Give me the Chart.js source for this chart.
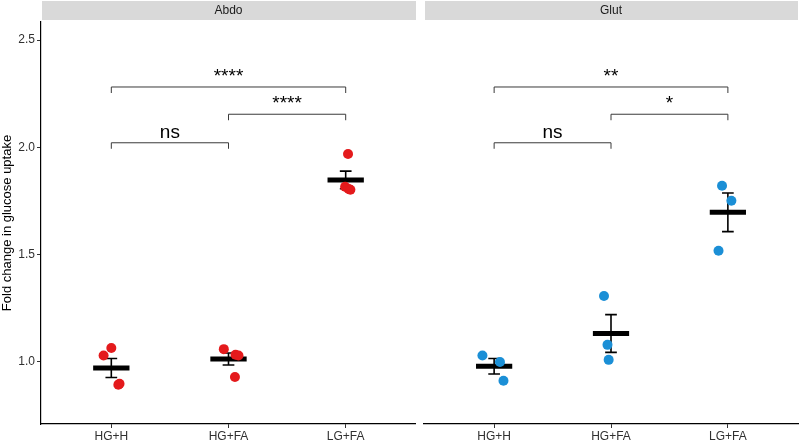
<!DOCTYPE html>
<html>
<head>
<meta charset="utf-8">
<script src="https://cdn.jsdelivr.net/npm/chart.js@4"></script>
<style>
  html, body { margin: 0; padding: 0; background: #fff; }
  #wrap { position: relative; width: 800px; height: 441px; }
  #c1 { position: absolute; left: 0; top: 0; }
  #c2 { position: absolute; left: 416px; top: 0; }
</style>
</head>
<body>
<div id="wrap">
  <canvas id="c1" width="416" height="441"></canvas>
  <canvas id="c2" width="384" height="441"></canvas>
</div>
<script>
// Groups and y ticks
const groups = ['HG+H', 'HG+FA', 'LG+FA'];
const yTicks = [1.0, 1.5, 2.0, 2.5];

// Abdo replicates (fold change) and horizontal jitter (category units)
const abdoHGH = [1.064, 1.029, 0.898, 0.893];
const abdoHGFA = [1.059, 1.033, 1.029, 0.929];
const abdoLGFA = [1.969, 1.816, 1.806, 1.802];
const abdoJitter = [[0.0, -0.066, 0.07, 0.06], [-0.04, 0.06, 0.085, 0.055], [0.02, -0.005, 0.025, 0.04]];
const abdoMean = [0.971, 1.013, 1.848];
const abdoSem = [0.044, 0.028, 0.041];

// Glut replicates
const glutHGH = [1.029, 0.999, 0.912];
const glutHGFA = [1.307, 1.079, 1.009];
const glutLGFA = [1.821, 1.751, 1.518];
const glutJitter = [[-0.1, 0.05, 0.08], [-0.06, -0.03, -0.02], [-0.05, 0.03, -0.08]];
const glutMean = [0.979, 1.132, 1.697];
const glutSem = [0.036, 0.088, 0.090];

// significance brackets
const bracketPairs = [[1, 3], [2, 3], [1, 2]];
const bracketY = [2.281, 2.154, 2.021];
const abdoSig = ['****', '****', 'ns'];
const glutSig = ['**', '*', 'ns'];

const FONT = "'Liberation Sans', Arial, sans-serif";

function toPoints(groupsVals, jitter) {
  const pts = [];
  groupsVals.forEach((vals, g) => {
    vals.forEach((v, i) => pts.push({ x: g + 1 + jitter[g][i], y: v }));
  });
  return pts;
}

// mean crossbar + SEM error bars, drawn under the points
const summaryPlugin = {
  id: 'summary',
  beforeDatasetsDraw(chart) {
    const o = chart.options.plugins.summary;
    const xs = chart.scales.x, ys = chart.scales.y;
    const ctx = chart.ctx;
    ctx.save();
    ctx.strokeStyle = '#000';
    o.means.forEach((m, i) => {
      const cx = i + 1;
      const top = ys.getPixelForValue(m + o.sems[i]);
      const bot = ys.getPixelForValue(m - o.sems[i]);
      ctx.lineWidth = 1.6;
      ctx.beginPath();
      ctx.moveTo(xs.getPixelForValue(cx), top);
      ctx.lineTo(xs.getPixelForValue(cx), bot);
      ctx.moveTo(xs.getPixelForValue(cx - 0.05), top);
      ctx.lineTo(xs.getPixelForValue(cx + 0.05), top);
      ctx.moveTo(xs.getPixelForValue(cx - 0.05), bot);
      ctx.lineTo(xs.getPixelForValue(cx + 0.05), bot);
      ctx.stroke();
      ctx.lineWidth = 5;
      ctx.beginPath();
      ctx.moveTo(xs.getPixelForValue(cx - 0.155), ys.getPixelForValue(m));
      ctx.lineTo(xs.getPixelForValue(cx + 0.155), ys.getPixelForValue(m));
      ctx.stroke();
    });
    ctx.restore();
  },
  afterDatasetsDraw(chart) {
    const o = chart.options.plugins.summary;
    const xs = chart.scales.x, ys = chart.scales.y;
    const ctx = chart.ctx;
    ctx.save();
    ctx.strokeStyle = '#3a3a3a';
    ctx.lineWidth = 1;
    ctx.fillStyle = '#000';
    ctx.font = '19px ' + FONT;
    ctx.textAlign = 'center';
    ctx.textBaseline = 'alphabetic';
    bracketPairs.forEach((p, i) => {
      const x1 = xs.getPixelForValue(p[0]);
      const x2 = xs.getPixelForValue(p[1]);
      const y = ys.getPixelForValue(bracketY[i]);
      const yd = ys.getPixelForValue(bracketY[i] - 0.028);
      ctx.beginPath();
      ctx.moveTo(x1, yd);
      ctx.lineTo(x1, y);
      ctx.lineTo(x2, y);
      ctx.lineTo(x2, yd);
      ctx.stroke();
      ctx.fillText(o.sig[i], (x1 + x2) / 2, y - 5);
    });
    ctx.restore();
  },
  afterDraw(chart) {
    const o = chart.options.plugins.summary;
    const a = chart.chartArea;
    const ctx = chart.ctx;
    ctx.save();
    ctx.fillStyle = '#d9d9d9';
    ctx.fillRect(a.left + 1, 1, a.right - a.left - 1, 19);
    ctx.fillStyle = '#1a1a1a';
    ctx.font = '12px ' + FONT;
    ctx.textAlign = 'center';
    ctx.textBaseline = 'middle';
    ctx.fillText(o.strip, (a.left + a.right) / 2, 11);
    ctx.restore();
  }
};

function makeChart(id, strip, pts, color, means, sems, sig, showY, pad) {
  return new Chart(document.getElementById(id), {
    type: 'scatter',
    data: {
      datasets: [{
        data: pts,
        backgroundColor: color,
        borderColor: color,
        pointRadius: 5,
        pointHoverRadius: 5,
        borderWidth: 0
      }]
    },
    options: {
      responsive: false,
      animation: false,
      events: [],
      layout: { padding: pad, autoPadding: false },
      plugins: {
        legend: { display: false },
        tooltip: { enabled: false },
        summary: { strip: strip, means: means, sems: sems, sig: sig }
      },
      scales: {
        x: {
          type: 'linear',
          min: 0.4,
          max: 3.6,
          afterBuildTicks: s => { s.ticks = [1, 2, 3].map(v => ({ value: v })); },
          afterFit: s => { s.height = 17; s.paddingLeft = 0; s.paddingRight = 0; },
          ticks: {
            callback: v => groups[v - 1],
            font: { family: FONT, size: 12 },
            color: '#303030',
            padding: 1,
            maxRotation: 0
          },
          grid: { drawOnChartArea: false, drawTicks: true, tickLength: 4, color: '#333' },
          border: { display: true, color: '#000', width: 1.2 }
        },
        y: {
          display: showY,
          min: 0.71,
          max: 2.584,
          afterBuildTicks: s => { s.ticks = yTicks.map(v => ({ value: v })); },
          afterFit: s => { s.width = showY ? 41 : 0; s.paddingTop = 0; s.paddingBottom = 0; },
          ticks: {
            callback: v => v.toFixed(1),
            font: { family: FONT, size: 12 },
            color: '#303030',
            padding: 2
          },
          title: {
            display: true,
            text: 'Fold change in glucose uptake',
            font: { family: FONT, size: 13 },
            color: '#000',
            padding: { top: 0, bottom: 0 }
          },
          grid: { drawOnChartArea: false, drawTicks: true, tickLength: 4, color: '#333' },
          border: { display: true, color: '#000', width: 1.2 }
        }
      }
    },
    plugins: [summaryPlugin]
  });
}

makeChart('c1', 'Abdo', toPoints([abdoHGH, abdoHGFA, abdoLGFA], abdoJitter), '#e41a1c',
  abdoMean, abdoSem, abdoSig, true, { top: 22, left: 0, right: 0, bottom: 0 });
makeChart('c2', 'Glut', toPoints([glutHGH, glutHGFA, glutLGFA], glutJitter), '#1b8fd6',
  glutMean, glutSem, glutSig, false, { top: 22, left: 8, right: 2, bottom: 0 });
</script>
</body>
</html>
